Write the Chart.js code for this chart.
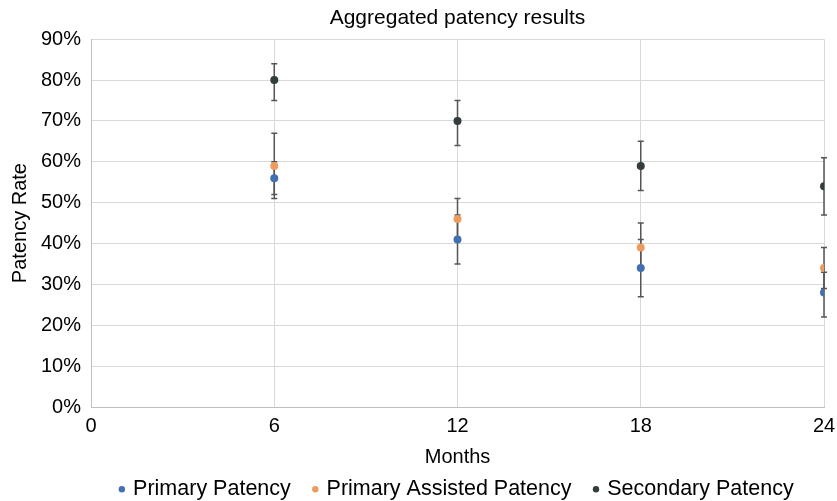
<!DOCTYPE html>
<html>
<head>
<meta charset="utf-8">
<script src="https://cdn.jsdelivr.net/npm/chart.js@4.4.1/dist/chart.umd.min.js"></script>
<style>
  html, body { margin: 0; padding: 0; background: #fff; }
  #wrap { width: 837px; height: 501px; position: relative; }
</style>
</head>
<body>
<div id="wrap"><canvas id="chart"></canvas></div>
<script>
const months = [6, 12, 18, 24];
const seriesNames = ["Primary Patency", "Primary Assisted Patency", "Secondary Patency"];
const seriesColors = ["#4270b0", "#ef9b5d", "#333c3e"];

const primary = [0.56, 0.41, 0.34, 0.28];
const primaryLow = [0.51, 0.35, 0.27, 0.22];
const primaryHigh = [0.60, 0.47, 0.41, 0.33];

const assisted = [0.59, 0.46, 0.39, 0.34];
const assistedLow = [0.52, 0.41, 0.34, 0.29];
const assistedHigh = [0.67, 0.51, 0.45, 0.39];

const secondary = [0.80, 0.70, 0.59, 0.54];
const secondaryLow = [0.75, 0.64, 0.53, 0.47];
const secondaryHigh = [0.84, 0.75, 0.65, 0.61];

const values = [primary, assisted, secondary];
const lows = [primaryLow, assistedLow, secondaryLow];
const highs = [primaryHigh, assistedHigh, secondaryHigh];

const FONT = "'Liberation Sans', Arial, Helvetica, sans-serif";

// error bars, drawn under the points
const errorBars = {
  id: 'errorBars',
  beforeDatasetsDraw(chart) {
    const ctx = chart.ctx;
    const xs = chart.scales.x, ys = chart.scales.y;
    ctx.save();
    ctx.strokeStyle = '#555';
    ctx.lineWidth = 1.5;
    values.forEach((vals, s) => {
      vals.forEach((v, i) => {
        const x = xs.getPixelForValue(months[i]);
        const yl = ys.getPixelForValue(lows[s][i]);
        const yh = ys.getPixelForValue(highs[s][i]);
        ctx.beginPath();
        ctx.moveTo(x, yl); ctx.lineTo(x, yh);
        ctx.moveTo(x - 3, yl); ctx.lineTo(x + 3, yl);
        ctx.moveTo(x - 3, yh); ctx.lineTo(x + 3, yh);
        ctx.stroke();
      });
    });
    ctx.restore();
  }
};

new Chart(document.getElementById('chart'), {
  type: 'scatter',
  data: {
    datasets: values.map((vals, s) => ({
      label: seriesNames[s],
      data: vals.map((v, i) => ({ x: months[i], y: v })),
      backgroundColor: seriesColors[s],
      borderColor: seriesColors[s],
      pointRadius: 4,
      pointHoverRadius: 4,
      borderWidth: 0
    }))
  },
  options: {
    responsive: true,
    maintainAspectRatio: false,
    animation: false,
    layout: { padding: { top: 0, right: 0, bottom: -9, left: 8 } },
    plugins: {
      tooltip: { enabled: false },
      title: {
        display: true,
        text: 'Aggregated patency results',
        fullSize: false,
        color: '#000',
        font: { family: FONT, size: 21, weight: 'normal' },
        padding: { top: 6, bottom: 8 }
      },
      legend: {
        position: 'bottom',
        fullSize: false,
        labels: {
          usePointStyle: true,
          pointStyle: 'circle',
          boxWidth: 1,
          boxHeight: 4.5,
          padding: 24,
          color: '#000',
          font: { family: FONT, size: 21.5 }
        }
      }
    },
    scales: {
      x: {
        type: 'linear',
        min: 0,
        max: 24,
        afterFit: (scale) => { scale.paddingRight = 13; },
        ticks: { stepSize: 6, color: '#000', padding: 7, font: { family: FONT, size: 20 } },
        grid: { color: '#d9d9d9', drawTicks: false },
        border: { color: '#bfbfbf' },
        title: { display: true, text: 'Months', color: '#000', padding: { top: 0, bottom: -14.5 }, font: { family: FONT, size: 20 } }
      },
      y: {
        min: 0,
        max: 0.9,
        ticks: {
          stepSize: 0.1,
          color: '#000',
          padding: 10,
          font: { family: FONT, size: 20 },
          callback: (v) => Math.round(v * 100) + '%'
        },
        grid: { color: '#d9d9d9', drawTicks: false },
        border: { color: '#bfbfbf' },
        title: { display: true, text: 'Patency Rate', color: '#000', padding: { top: 0, bottom: -1 }, font: { family: FONT, size: 20 } }
      }
    }
  },
  plugins: [errorBars]
});
</script>
</body>
</html>
